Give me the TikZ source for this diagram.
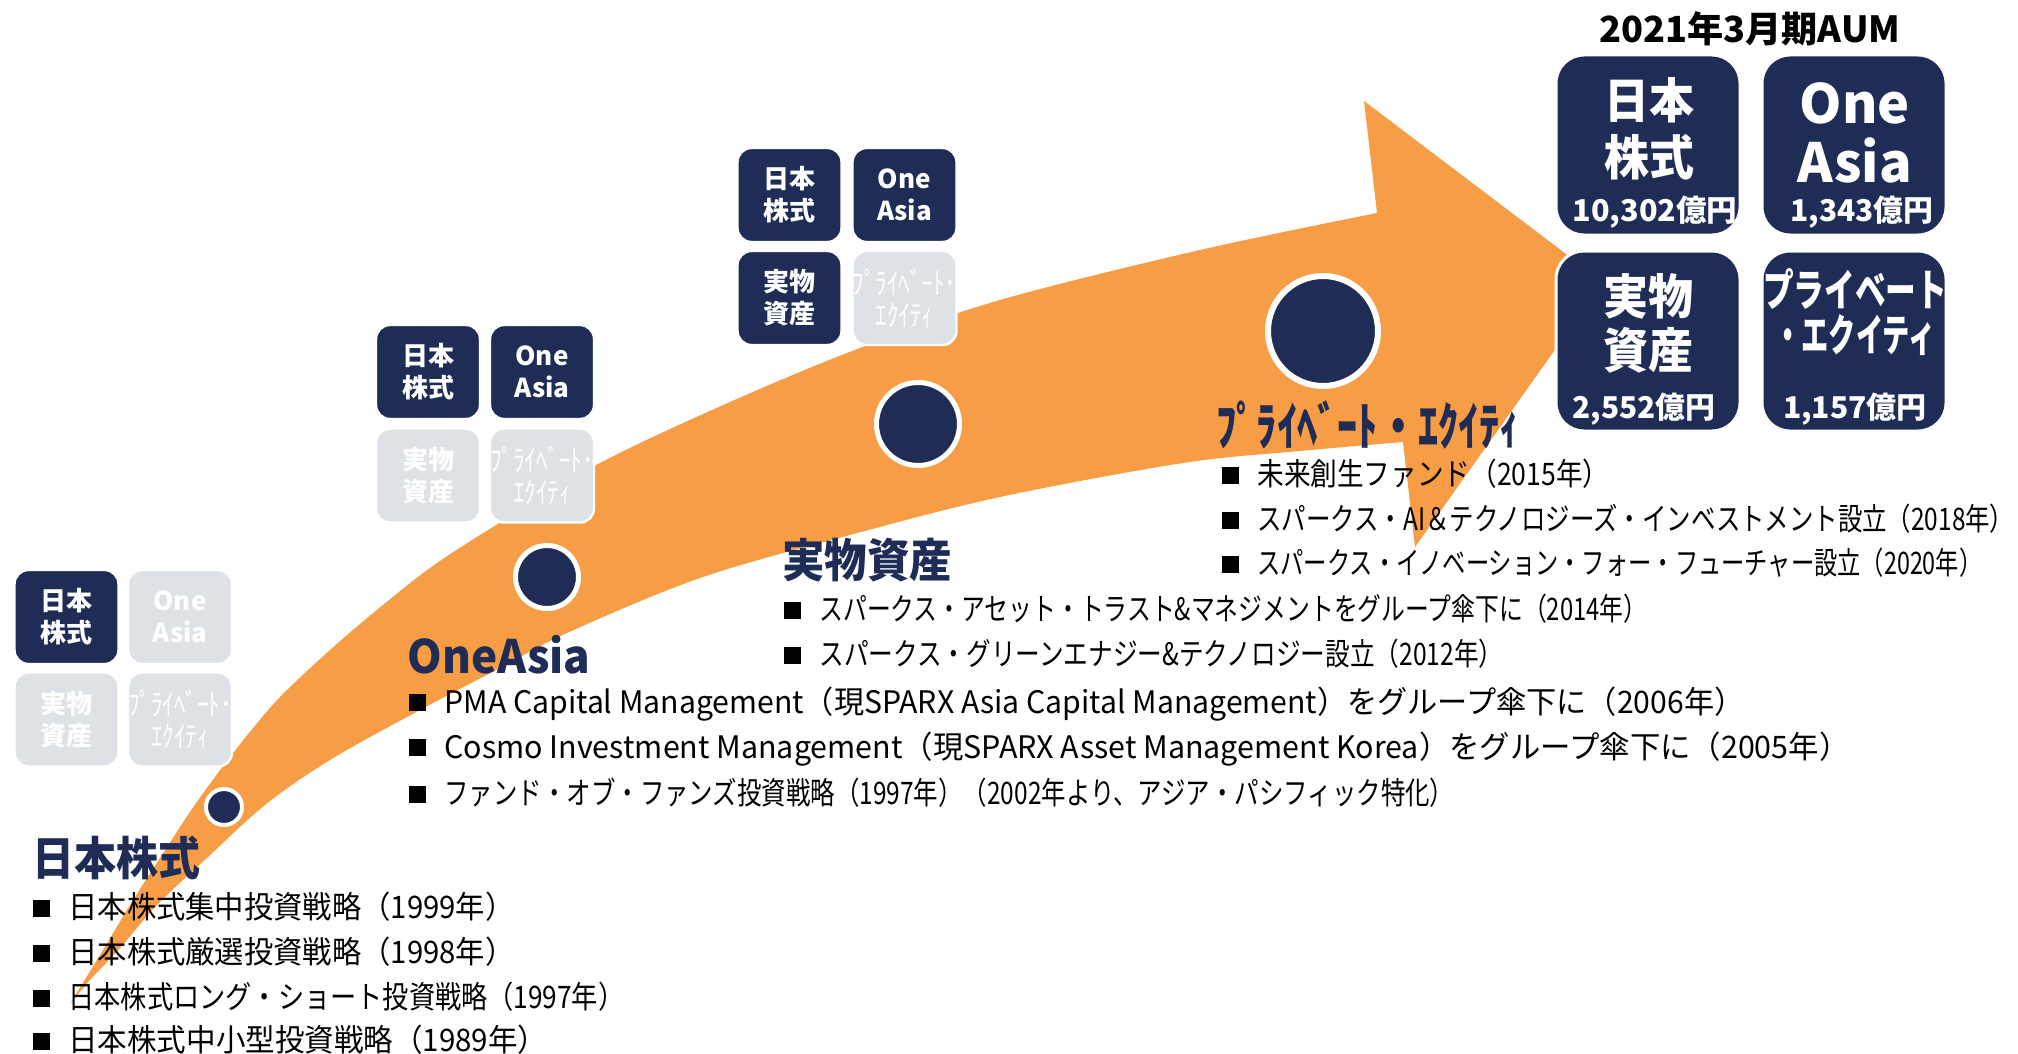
\documentclass[tikz,border=0pt]{standalone}
\usepackage{fontspec}
\setmainfont{Noto Sans CJK JP}
\usepackage{graphicx}
\definecolor{navy}{HTML}{1F2C56}
\definecolor{orng}{HTML}{F79D46}
\definecolor{lgrey}{HTML}{DEE2E6}
\newdimen\pxu \pxu=0.5pt
\newcommand\fitw[2]{\resizebox{#1\pxu}{\height}{#2}}
\newcommand\bul{\makebox[17.5pt][l]{\raisebox{1pt}{\rule{8.5pt}{8.5pt}}}}
\newcommand\pesmall{\fitw{104}{ﾌﾟﾗｲﾍﾞｰﾄ･}\\\fitw{58}{ｴｸｲﾃｨ}}
\begin{document}
\begin{tikzpicture}[x=0.5pt,y=-0.5pt,
 sbox/.style={rounded corners=7pt, minimum width=52pt, minimum height=47pt, draw=white, line width=1.2pt, text=white, align=center, inner sep=0pt, font=\bfseries\fontsize{13pt}{16pt}\selectfont},
 dk/.style={sbox, fill=navy},
 gy/.style={sbox, fill=lgrey},
 pesm/.style={font=\fontsize{15pt}{16pt}\selectfont},
 bbox/.style={rounded corners=14pt, minimum width=92pt, minimum height=90pt, fill=navy, draw=white, line width=1.5pt},
 dot/.style={circle, fill=navy, draw=white, inner sep=0pt},
 ttl/.style={anchor=west, inner sep=0pt, text=navy, font=\bfseries\fontsize{23pt}{26pt}\selectfont},
 itm/.style={anchor=west, inner sep=0pt, text=black, font=\fontsize{15.5pt}{18pt}\selectfont},
 btxt/.style={text=white, align=center, inner sep=0pt},
 bval/.style={text=white, inner sep=0pt, font=\bfseries\fontsize{15pt}{18pt}\selectfont},
]
\useasboundingbox (0,0) rectangle (2018,1054);
\fill[white] (0,0) rectangle (2018,1054);

% main arrow
\fill[orng] plot[smooth, tension=0.55] coordinates {(70,1004) (100,955) (130,905) (160,858) (190,812) (215,777) (245,738) (280,697) (330,650) (372,614) (430,568) (493,527) (600,463) (730,402) (860,348) (1000,300) (1200,250) (1377,213)}
  -- (1364,101) -- (1603,282) -- (1415,547)
  -- plot[smooth, tension=0.55] coordinates {(1403,442) (1300,451) (1183,463) (1000,497) (850,535) (700,578) (567,633) (500,668) (420,710) (330,760) (265,805) (207,858) (157,905) (120,948) (90,980) (70,1004)}
  -- cycle;

% stage 1 grid
\node[dk] (g1a) at (66.5,617) {日本\\株式};
\node[gy] (g1b) at (180,617) {One\\Asia};
\node[gy] (g1c) at (66.5,719.5) {実物\\資産};
\node[gy, pesm] (g1d) at (180,719.5) {\pesmall};
% stage 2 grid
\node[dk] (g2a) at (428,372) {日本\\株式};
\node[dk] (g2b) at (542,372) {One\\Asia};
\node[gy] (g2c) at (428,475.5) {実物\\資産};
\node[gy, pesm] (g2d) at (542,475.5) {\pesmall};
% stage 3 grid
\node[dk] (g3a) at (789.5,195) {日本\\株式};
\node[dk] (g3b) at (904.5,195) {One\\Asia};
\node[dk] (g3c) at (789.5,298) {実物\\資産};
\node[gy, pesm] (g3d) at (904.5,298) {\pesmall};

% AUM boxes
\node[inner sep=0pt, font=\bfseries\fontsize{18pt}{20pt}\selectfont] (aum) at (1750,29) {\fitw{301}{2021年3月期AUM}};
\node[bbox] (b1) at (1648,145) {};
\node[bbox] (b2) at (1854,145) {};
\node[bbox] (b3) at (1648,341) {};
\node[bbox] (b4) at (1854,341) {};
\node[btxt, font=\bfseries\fontsize{24pt}{28.5pt}\selectfont] (b1t) at (1649,128.5) {\fitw{90}{日本}\\\fitw{90}{株式}};
\node[btxt, font=\bfseries\fontsize{27pt}{29.5pt}\selectfont] (b2t) at (1855,132.5) {One\\Asia};
\node[btxt, font=\bfseries\fontsize{24pt}{27pt}\selectfont] (b3t) at (1648,323) {\fitw{90}{実物}\\\fitw{90}{資産}};
\node[btxt, font=\bfseries\fontsize{22pt}{22.5pt}\selectfont] (b4t) at (1855,312.5) {\fitw{184}{プライベート}\\\fitw{161}{・エクイティ}};
\node[bval] (b1v) at (1655,212) {\fitw{165}{10,302億円}};
\node[bval] (b2v) at (1862,212) {\fitw{143}{1,343億円}};
\node[bval] (b3v) at (1644,409) {\fitw{143}{2,552億円}};
\node[bval] (b4v) at (1855,409) {\fitw{144}{1,157億円}};

% milestone dots
\node[dot, minimum size=18pt, line width=2pt] (c1) at (224,807) {};
\node[dot, minimum size=31.5pt, line width=2.5pt] (c2) at (547,577) {};
\node[dot, minimum size=41.5pt, line width=2.5pt] (c3) at (918,424) {};
\node[dot, minimum size=55pt, line width=3pt] (c4) at (1323,331) {};

% titles
\node[ttl] (tJP) at (32,858) {\fitw{168}{日本株式}};
\node[ttl] (tOA) at (407,655) {\fitw{183}{OneAsia}};
\node[ttl] (tRA) at (782,560) {\fitw{170}{実物資産}};
\node[ttl, font=\bfseries\fontsize{26pt}{27pt}\selectfont] (tPE) at (1216,425) {\fitw{303}{ﾌﾟﾗｲﾍﾞｰﾄ・ｴｸｲﾃｨ}};

% Japan equity items
\node[itm] (j1) at (33,907) {\bul\fitw{446}{日本株式集中投資戦略（1999年）}};
\node[itm] (j2) at (33,952) {\bul\fitw{446}{日本株式厳選投資戦略（1998年）}};
\node[itm] (j3) at (33,997) {\bul\fitw{556}{日本株式ロング・ショート投資戦略（1997年）}};
\node[itm] (j4) at (33,1040) {\bul\fitw{479}{日本株式中小型投資戦略（1989年）}};
% OneAsia items
\node[itm] (o1) at (409,704) {\bul\fitw{1300}{PMA Capital Management（現SPARX Asia Capital Management）をグループ傘下に（2006年）}};
\node[itm] (o2) at (409,749) {\bul\fitw{1405}{Cosmo Investment Management（現SPARX Asset Management Korea）をグループ傘下に（2005年）}};
\node[itm] (o3) at (409,793) {\bul\fitw{1010}{ファンド・オブ・ファンズ投資戦略（1997年）（2002年より、アジア・パシフィック特化）}};
% Real assets items
\node[itm] (r1) at (784,609) {\bul\fitw{828}{スパークス・アセット・トラスト\&マネジメントをグループ傘下に（2014年）}};
\node[itm] (r2) at (784,654) {\bul\fitw{684}{スパークス・グリーンエナジー\&テクノロジー設立（2012年）}};
% PE items
\node[itm] (p1) at (1222,474) {\bul\fitw{352}{未来創生ファンド（2015年）}};
\node[itm] (p2) at (1222,519) {\bul\fitw{757}{スパークス・AI＆テクノロジーズ・インベストメント設立（2018年）}};
\node[itm] (p3) at (1222,563) {\bul\fitw{725}{スパークス・イノベーション・フォー・フューチャー設立（2020年）}};
\end{tikzpicture}
\end{document}
